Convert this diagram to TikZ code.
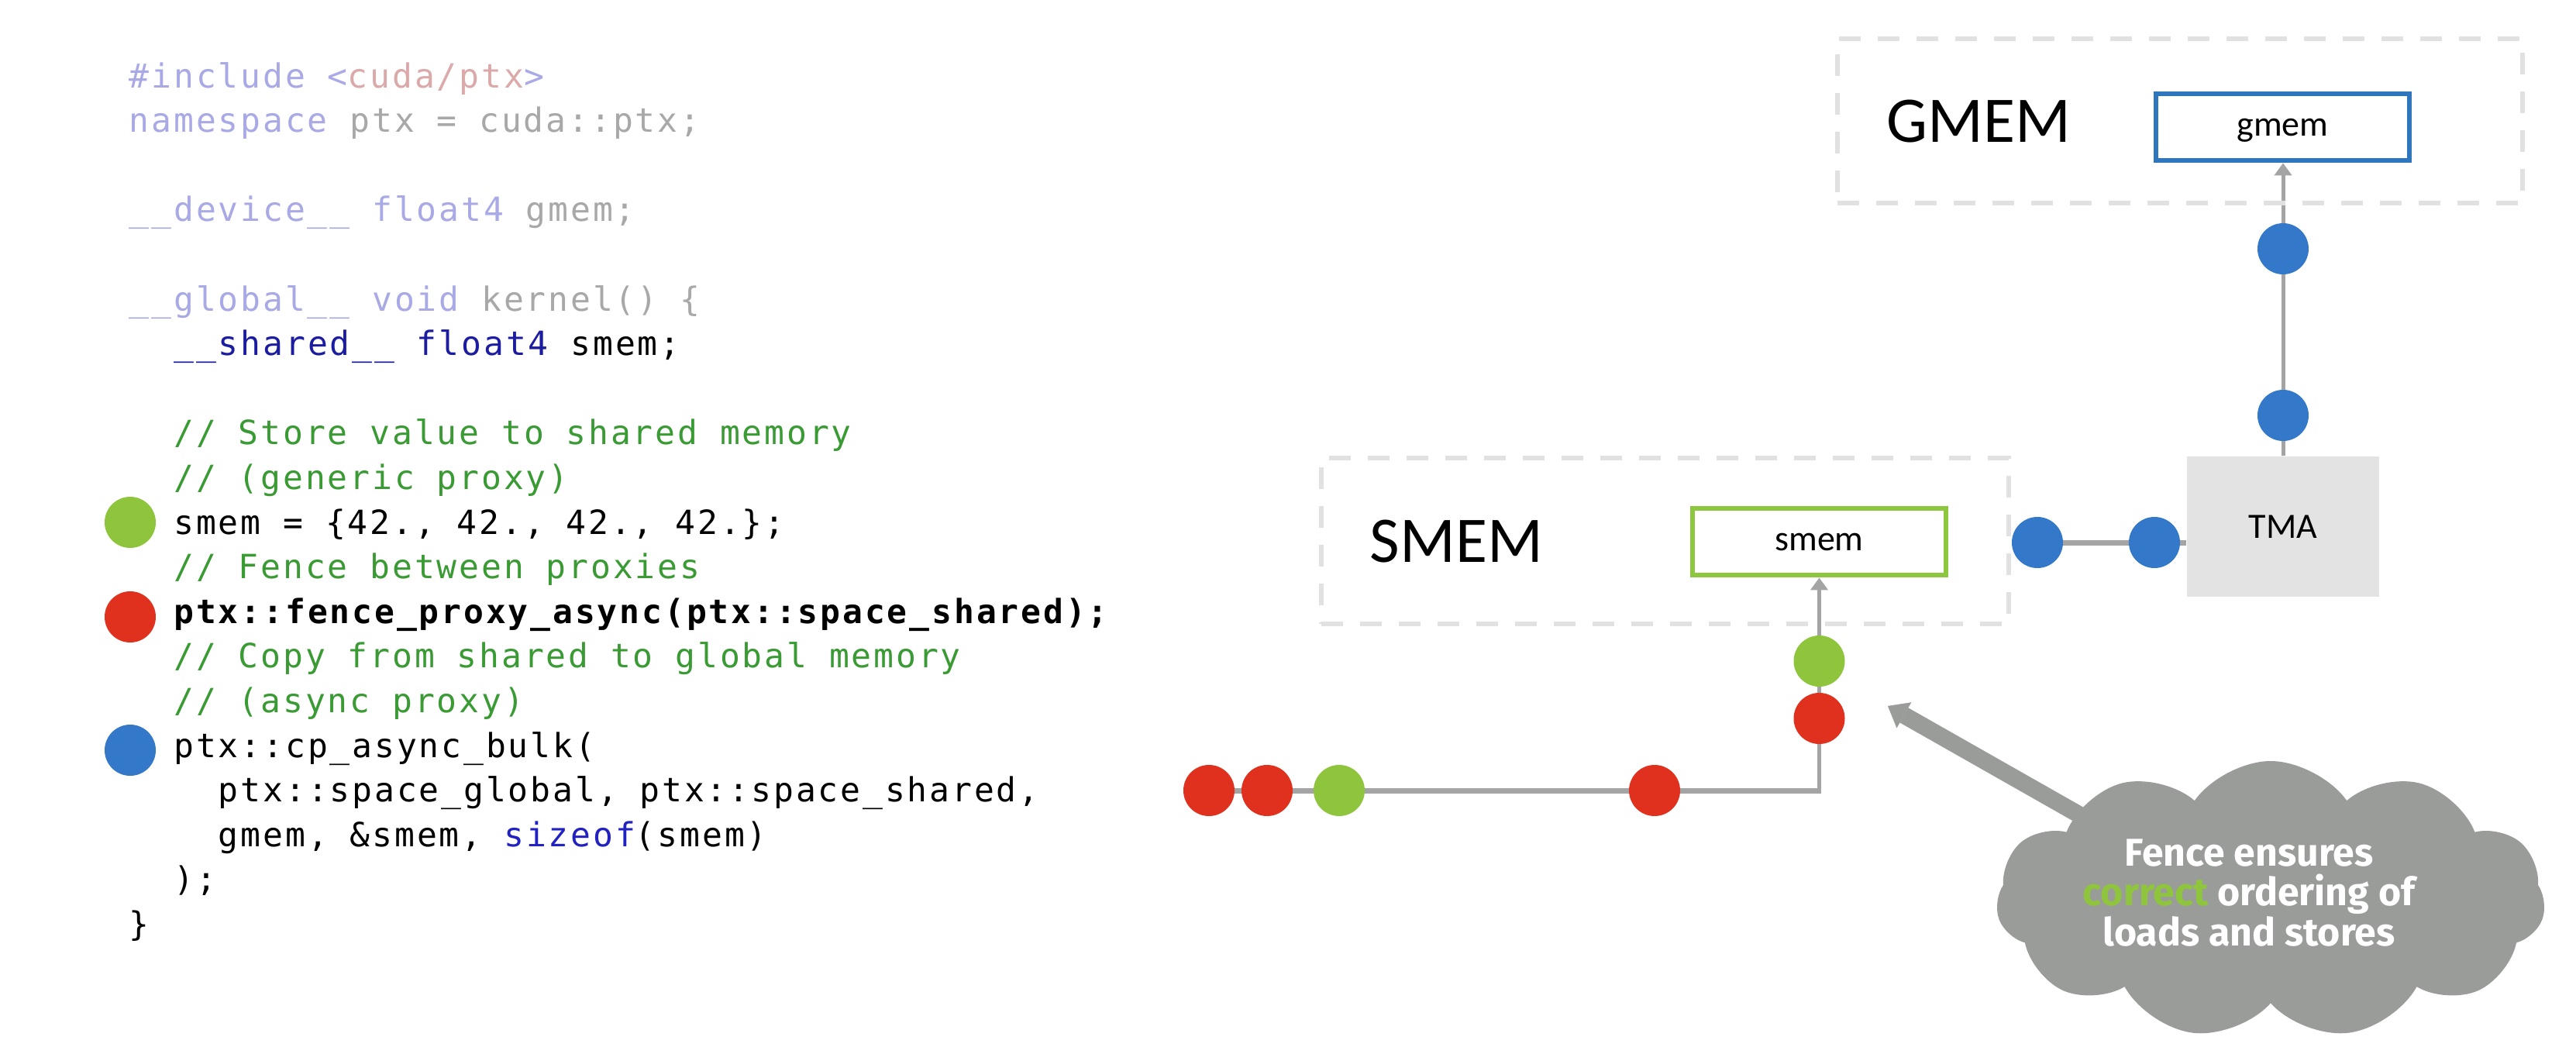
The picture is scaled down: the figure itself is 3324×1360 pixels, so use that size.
\documentclass[tikz,border=0pt]{standalone}
\usepackage{fontspec}
\usetikzlibrary{arrows.meta,shapes.symbols,backgrounds}
\newfontfamily\codefont[LetterSpace=6.7]{DejaVu Sans Mono}
\newfontfamily\labfont{Carlito}
\newfontfamily\cloudfont{Fira Sans}
\definecolor{lav}{HTML}{A9A9E6}
\definecolor{pinkc}{HTML}{DBA9A9}
\definecolor{fgray}{HTML}{A8A8A8}
\definecolor{navyc}{HTML}{1C1CA0}
\definecolor{cgreen}{HTML}{3A9A34}
\definecolor{sblue}{HTML}{2222C0}
\definecolor{dotgreen}{HTML}{8FC53D}
\definecolor{dotred}{HTML}{E0301E}
\definecolor{dotblue}{HTML}{3479C9}
\definecolor{boxgreen}{HTML}{8DC63F}
\definecolor{boxblue}{HTML}{2F76BC}
\definecolor{tmagray}{HTML}{E2E3E2}
\definecolor{dashgray}{HTML}{E1E1E1}
\definecolor{linegray}{HTML}{A3A4A3}
\definecolor{cloudgray}{HTML}{9A9C99}
\begin{document}
\begin{tikzpicture}[x=0.25pt,y=-0.25pt,
  code/.style={anchor=base west, inner sep=0pt, font=\codefont\fontsize{10.75pt}{13pt}\selectfont},
  dot/.style={circle, inner sep=0pt, minimum size=16.5pt},
  gdot/.style={dot, fill=dotgreen},
  rdot/.style={dot, fill=dotred},
  bdot/.style={dot, fill=dotblue},
  areabox/.style={draw=dashgray, line width=1.5pt, dash pattern=on 7pt off 5.5pt, inner sep=0pt},
  membox/.style={draw, line width=1.7pt, fill=white, inner sep=0pt, text depth=0pt,
     minimum width=81.75pt, minimum height=21.5pt, font=\labfont\fontsize{11.5pt}{13pt}\selectfont},
  biglabel/.style={anchor=base west, inner sep=0pt, font=\labfont\fontsize{21pt}{24pt}\selectfont},
  gline/.style={draw=linegray, line width=1.25pt},
  hline/.style={draw=linegray, line width=1.75pt},
  tip/.style={-{Triangle[length=4pt,width=5.5pt]}},
  ctxt/.style={anchor=base, inner sep=0pt, text=white, font=\cloudfont\bfseries\fontsize{12.5pt}{13pt}\selectfont}
]
\useasboundingbox (0,0) rectangle (3324,1360);

% ---------- code ----------
\node[code] (c1) at (166,113) {\textcolor{lav}{\#include <}\textcolor{pinkc}{cuda/ptx}\textcolor{lav}{>}};
\node[code] (c2) at (166,170.6) {\textcolor{lav}{namespace} \textcolor{fgray}{ptx = cuda::ptx;}};
\node[code] (c4) at (166,285.8) {\textcolor{lav}{\_\_device\_\_ float4} \textcolor{fgray}{gmem;}};
\node[code] (c6) at (166,401) {\textcolor{lav}{\_\_global\_\_ void} \textcolor{fgray}{kernel() \{}};
\node[code] (c7) at (223.6,458.6) {\textcolor{navyc}{\_\_shared\_\_ float4} smem;};
\node[code, text=cgreen] (c9) at (223.6,573.8) {// Store value to shared memory};
\node[code, text=cgreen] (c10) at (223.6,631.4) {// (generic proxy)};
\node[code] (c11) at (223.6,689) {smem = \{42., 42., 42., 42.\};};
\node[code, text=cgreen] (c12) at (223.6,746.6) {// Fence between proxies};
\node[code] (c13) at (223.6,804.2) {\bfseries ptx::fence\_proxy\_async(ptx::space\_shared);};
\node[code, text=cgreen] (c14) at (223.6,861.8) {// Copy from shared to global memory};
\node[code, text=cgreen] (c15) at (223.6,919.4) {// (async proxy)};
\node[code] (c16) at (223.6,977) {ptx::cp\_async\_bulk(};
\node[code] (c17) at (281.2,1034.6) {ptx::space\_global, ptx::space\_shared,};
\node[code] (c18) at (281.2,1092.2) {gmem, \&smem, \textcolor{sblue}{sizeof}(smem)};
\node[code] (c19) at (223.6,1149.8) {);};
\node[code] (c20) at (166,1207.4) {\}};

\node[gdot] (cd1) at (168,674) {};
\node[rdot] (cd2) at (168,796) {};
\node[bdot] (cd3) at (168,968) {};

% ---------- memory areas ----------
\node[areabox, minimum width=221pt, minimum height=53pt] (gmemarea) at (2813,156) {};
\node[areabox, minimum width=221.75pt, minimum height=53.5pt] (smemarea) at (2148.5,698) {};
\node[biglabel] (gmemlabel) at (2434,183) {GMEM};
\node[biglabel] (smemlabel) at (1767,725) {SMEM};
\node[membox, draw=boxblue] (gmembox) at (2945.5,164) {gmem};
\node[membox, draw=boxgreen] (smembox) at (2347.5,699) {smem};
\node[fill=tmagray, inner sep=0pt, minimum width=62pt, minimum height=45.25pt,
      font=\labfont\fontsize{11.5pt}{13pt}\selectfont] (tma) at (2946,679.5) {TMA};

% ---------- dots ----------
\node[bdot] (gb1) at (2946,321) {};
\node[bdot] (gb2) at (2946,536) {};
\node[bdot] (hb1) at (2629,700) {};
\node[bdot] (hb2) at (2780,700) {};
\node[gdot] (gv) at (2347.5,853) {};
\node[rdot] (rv) at (2347.5,927) {};
\node[rdot] (r1) at (1560,1020) {};
\node[rdot] (r2) at (1635,1020) {};
\node[gdot] (g1) at (1728,1020) {};
\node[rdot] (r3) at (2135,1020) {};
\coordinate (corner) at (2347.5,1020);

% ---------- cloud ----------
\node[cloud, cloud puffs=11, cloud puff arc=110, cloud ignores aspect, fill=cloudgray,
      inner sep=0pt, minimum width=177pt, minimum height=89.5pt] (cloud) at (2930,1161) {};
\coordinate (ptail) at (2760,1095);
\coordinate (ptip) at (2436,911);
\node[ctxt] (ct1) at (2902,1117) {Fence ensures};
\node[ctxt] (ct2) at (2902,1168) {\textcolor{dotgreen}{correct} ordering of};
\node[ctxt] (ct3) at (2902,1220) {loads and stores};

% ---------- connectors (behind) ----------
\begin{pgfonlayer}{background}
  \fill[white] (0,0) rectangle (3324,1360);
  \draw[gline, tip] (tma.north) -- (tma.north |- gmembox.south);
  \draw[hline] (hb1.center) -- (hb1.center -| tma.west);
  \draw[hline] (r1.center) -- ([xshift=0.6pt]corner);
  \draw[gline, tip] (corner) -- (corner |- smembox.south);
  \draw[line width=5.5pt, cloudgray, -{Triangle[length=6pt,width=9.5pt,line width=0.1pt]}] (ptail) -- (ptip);
\end{pgfonlayer}
\end{tikzpicture}
\end{document}
